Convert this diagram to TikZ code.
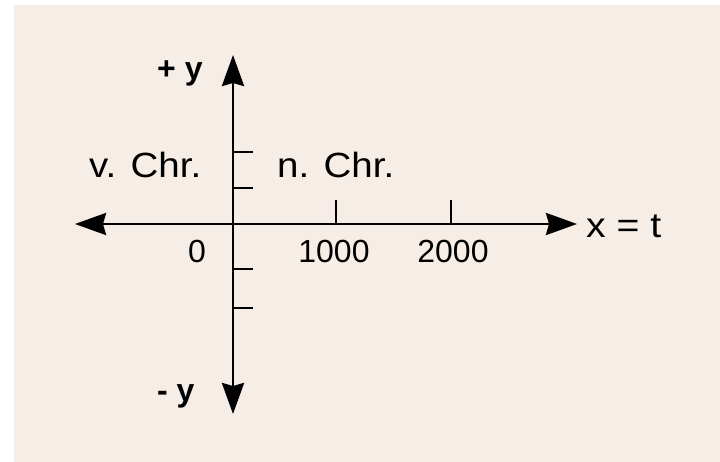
\documentclass[tikz,border=0pt]{standalone}
\usepackage{fontspec}
\setmainfont{Liberation Sans}
\usetikzlibrary{arrows.meta}
\definecolor{bgbeige}{RGB}{246,237,231}
\begin{document}
\begin{tikzpicture}[x=1pt,y=-1pt,
  axis/.style={line width=2.9pt, -{Stealth[length=31pt,width=22pt,inset=3pt]}},
  tickline/.style={line width=2.8pt},
  lbl/.style={inner sep=0pt, font=\fontsize{32}{38}\selectfont},
  biglbl/.style={inner sep=0pt, font=\fontsize{35}{40}\selectfont},
  ylbl/.style={inner sep=0pt, font=\fontsize{32}{38}\selectfont\bfseries}]
\useasboundingbox (0,0) rectangle (720,462);
\fill[white] (0,0) rectangle (720,462);
\fill[bgbeige] (14,5) rectangle (720,462);
% axis end points
\coordinate (o) at (233,224);
\coordinate (top) at (233,55);
\coordinate (bot) at (233,414);
\coordinate (left) at (75,224);
\coordinate (right) at (577,224);
\draw[axis] (o) -- (right);
\draw[axis] (o) -- (left);
\draw[axis] (o) -- (top);
\draw[axis] (o) -- (bot);
% y ticks
\foreach \yy/\nm in {152/ya,188/yb,269/yc,308/yd}{
  \coordinate (\nm s) at (233,\yy);
  \coordinate (\nm e) at (253,\yy);
  \draw[tickline] (\nm s) -- (\nm e);
}
% x ticks
\foreach \xx/\nm in {336/xa,451/xb}{
  \coordinate (\nm s) at (\xx,224);
  \coordinate (\nm e) at (\xx,200);
  \draw[tickline] (\nm s) -- (\nm e);
}
% labels
\node[lbl, anchor=base] (l0) at (197,263) {0};
\node[lbl, anchor=base] (l1000) at (334,263) {1000};
\node[lbl, anchor=base] (l2000) at (453,263) {2000};
\node[biglbl, anchor=base west, xscale=1.12] (lx) at (586,238) {x = t};
\node[biglbl, anchor=base west, xscale=1.1] (vc) at (89,178) {v. Chr.};
\node[biglbl, anchor=base west, xscale=1.1] (nc) at (277,178) {n. Chr.};
\node[ylbl, anchor=base west] (py) at (157,80) {+ y};
\node[ylbl, anchor=base west] (my) at (157,401) {- y};
\end{tikzpicture}
\end{document}
